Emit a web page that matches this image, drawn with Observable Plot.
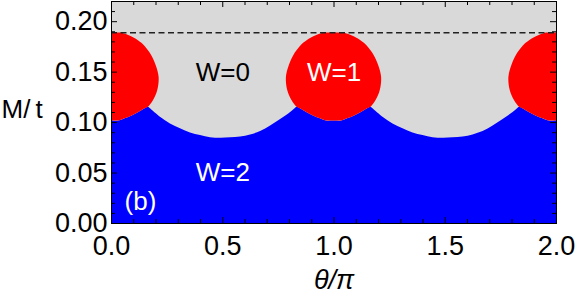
<!DOCTYPE html>
<html>
<head>
<meta charset="utf-8">
<script src="https://cdn.jsdelivr.net/npm/d3@7"></script>
<script src="https://cdn.jsdelivr.net/npm/@observablehq/plot@0.6"></script>
<style>
  html, body { margin: 0; padding: 0; background: #fff; }
  svg { display: block; }
</style>
</head>
<body>
<div id="chart"></div>
<script>
// Upper edge of the W=2 (blue) region
const blueTheta = [
  0, 0.035, 0.061, 0.095, 0.125, 0.151, 0.166,
  0.175, 0.220, 0.265, 0.310, 0.355, 0.400, 0.445, 0.490, 0.535, 0.580, 0.625, 0.670, 0.715, 0.760, 0.805, 0.825,
  0.834, 0.849, 0.875, 0.905, 0.939, 0.965, 1.0, 1.035, 1.061, 1.095, 1.125, 1.151, 1.166,
  1.175, 1.220, 1.265, 1.310, 1.355, 1.400, 1.445, 1.490, 1.535, 1.580, 1.625, 1.670, 1.715, 1.760, 1.805, 1.825,
  1.834, 1.849, 1.875, 1.905, 1.939, 1.965, 2.0
];
const blueM = [
  0.1015, 0.1015, 0.1037, 0.1069, 0.1102, 0.1136, 0.1151,
  0.1136, 0.1052, 0.0987, 0.0938, 0.0898, 0.0871, 0.0851, 0.0845, 0.0849, 0.0858, 0.0878, 0.0911, 0.0966, 0.1030, 0.1100, 0.1136,
  0.1151, 0.1136, 0.1102, 0.1069, 0.1037, 0.1015, 0.1015, 0.1015, 0.1037, 0.1069, 0.1102, 0.1136, 0.1151,
  0.1136, 0.1052, 0.0987, 0.0938, 0.0898, 0.0871, 0.0851, 0.0845, 0.0849, 0.0858, 0.0878, 0.0911, 0.0966, 0.1030, 0.1100, 0.1136,
  0.1151, 0.1136, 0.1102, 0.1069, 0.1037, 0.1015, 0.1015
];

// W=1 (red) islands: centres and half-width (in θ/π) at each M/t level
const blobCenters = [0, 1, 2];
const blobM = [0.1015, 0.1037, 0.1069, 0.1102, 0.1136, 0.1151, 0.1218, 0.1317, 0.1446, 0.1564, 0.1663, 0.1762, 0.1812, 0.1861, 0.1888];
const blobHalfWidth = [0.035, 0.061, 0.095, 0.125, 0.151, 0.166, 0.189, 0.208, 0.214, 0.201, 0.181, 0.148, 0.121, 0.080, 0.045];

// dashed reference line
const dashedM = [0.189];

// region labels
const labelText = ["W=0", "W=1", "W=2", "(b)"];
const labelTheta = [0.5, 1.0, 0.5, 0.13];
const labelM = [0.149, 0.1495, 0.0505, 0.0218];
const labelColor = ["black", "white", "white", "white"];

// ticks
const xMajor = [0, 0.5, 1.0, 1.5, 2.0];
const xMinor = [0.1, 0.2, 0.3, 0.4, 0.6, 0.7, 0.8, 0.9, 1.1, 1.2, 1.3, 1.4, 1.6, 1.7, 1.8, 1.9];
const yMajor = [0, 0.05, 0.10, 0.15, 0.20];
const yMinor = [0.01, 0.02, 0.03, 0.04, 0.06, 0.07, 0.08, 0.09, 0.11, 0.12, 0.13, 0.14, 0.16, 0.17, 0.18, 0.19, 0.21];

const blueRows = blueTheta.map((t, i) => ({t, m: blueM[i]}));
const blobRows = blobCenters.flatMap(c => blobM.map((m, i) => ({c, m, x1: c - blobHalfWidth[i], x2: c + blobHalfWidth[i]})));
const labelRows = labelText.map((s, i) => ({s, t: labelTheta[i], m: labelM[i], color: labelColor[i]}));

const W = 576, H = 305, mL = 111, mR = 20, mT = 1, mB = 82;
const pw = W - mL - mR, ph = H - mT - mB;
const font = "'Liberation Sans', Arial, Helvetica, sans-serif";

const chart = Plot.plot({
  width: W, height: H,
  marginLeft: mL, marginRight: mR, marginTop: mT, marginBottom: mB,
  x: {domain: [0, 2]},
  y: {domain: [0, 0.22]},
  style: {fontFamily: font, fontSize: "27px", background: "white", color: "black", overflow: "visible"},
  marks: [
    Plot.frame({fill: "#d9d9d9"}),
    Plot.areaY(blueRows, {x: "t", y1: 0, y2: "m", fill: "#0000ff", curve: "catmull-rom"}),
    Plot.areaX(blobRows, {y: "m", x1: "x1", x2: "x2", z: "c", fill: "#ff0000", curve: "catmull-rom", clip: true}),
    Plot.ruleY(dashedM, {stroke: "#222", strokeWidth: 1.5, strokeDasharray: "6,3.5"}),
    Plot.text(labelRows, {x: "t", y: "m", text: "s", fill: "color", fontSize: 26}),
    // inward ticks: left, right, bottom, top
    Plot.tickY(yMajor, {stroke: "black", insetRight: pw - 6}),
    Plot.tickY(yMinor, {stroke: "black", insetRight: pw - 4}),
    Plot.tickY(yMajor, {stroke: "black", insetLeft: pw - 6}),
    Plot.tickY(yMinor, {stroke: "black", insetLeft: pw - 4}),
    Plot.tickX(xMajor, {stroke: "black", insetTop: ph - 6}),
    Plot.tickX(xMinor, {stroke: "black", insetTop: ph - 4}),
    Plot.tickX(xMajor, {stroke: "black", insetBottom: ph - 6}),
    Plot.tickX(xMinor, {stroke: "black", insetBottom: ph - 4}),
    Plot.frame({stroke: "black", strokeWidth: 1}),
    Plot.axisX(xMajor, {anchor: "bottom", tickSize: 0, tickPadding: 12, tickFormat: d3.format(".1f"), label: null, fontSize: 27}),
    Plot.axisY(yMajor, {anchor: "left", tickSize: 0, tickPadding: 4, tickFormat: d3.format(".2f"), label: null, fontSize: 27}),
    Plot.text(["θ/π"], {frameAnchor: "bottom", dy: 65, fontStyle: "italic", fontSize: 27}),
    Plot.text(["M/\u2009t"], {frameAnchor: "left", textAnchor: "start", dx: -110, dy: -3, fontSize: 26})
  ]
});
document.getElementById("chart").appendChild(chart);
</script>
</body>
</html>
